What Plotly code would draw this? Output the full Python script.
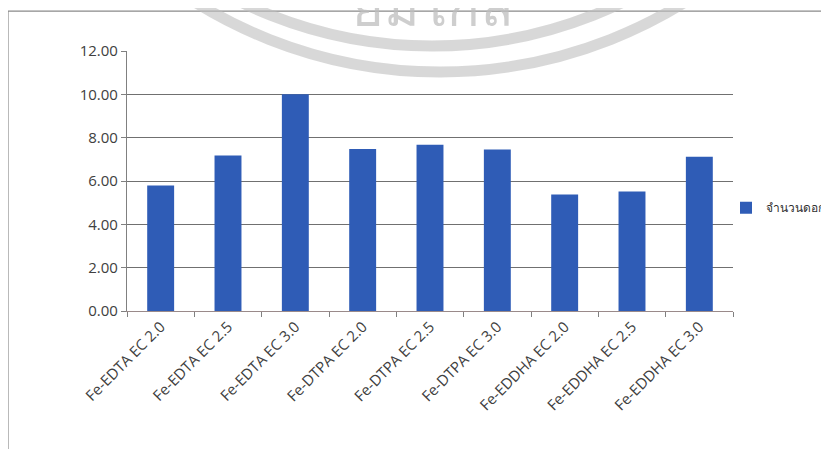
import plotly.graph_objects as go

categories = [
    "Fe-EDTA EC 2.0", "Fe-EDTA EC 2.5", "Fe-EDTA EC 3.0",
    "Fe-DTPA EC 2.0", "Fe-DTPA EC 2.5", "Fe-DTPA EC 3.0",
    "Fe-EDDHA EC 2.0", "Fe-EDDHA EC 2.5", "Fe-EDDHA EC 3.0",
]
flower_count = [5.79, 7.18, 10.00, 7.48, 7.67, 7.45, 5.38, 5.51, 7.12]
series_name = "จำนวนดอก"
y_ticks = [0, 2, 4, 6, 8, 10, 12]
y_tick_labels = ["0.00", "2.00", "4.00", "6.00", "8.00", "10.00", "12.00"]

# window is 829x449; the page body adds an 8px offset to the figure
W, H = 829, 449
OFF = 8
L, R, T, B = 127, 733, 51, 311.5   # plot area, screen pixels
pw, ph = R - L, B - T


def px_x(x):
    return (x - L) / pw


def px_y(y):
    return (B - y) / ph


fig = go.Figure()
fig.add_trace(go.Bar(
    x=categories, y=flower_count, name=series_name,
    marker=dict(color="#2F5CB6", line=dict(width=0)),
    showlegend=True,
))

shapes = [
    # outer chart border (extends past the window on right/bottom)
    dict(type="rect", xref="paper", yref="paper",
         x0=px_x(8), x1=px_x(W + 20), y0=px_y(H + 20), y1=px_y(11),
         line=dict(color="#8a8a8a", width=1.2), layer="below"),
    # faint watermark arcs
    dict(type="circle", xref="paper", yref="paper",
         x0=px_x(440 - 463), x1=px_x(440 + 463),
         y0=px_y(-391 + 463), y1=px_y(-391 - 463),
         line=dict(color="rgba(190,190,190,0.6)", width=11), layer="above"),
    dict(type="circle", xref="paper", yref="paper",
         x0=px_x(432 - 437), x1=px_x(432 + 437),
         y0=px_y(-391 + 437), y1=px_y(-391 - 437),
         line=dict(color="rgba(190,190,190,0.6)", width=11), layer="above"),
]

fig.update_layout(
    width=W - OFF, height=H - OFF,
    margin=dict(l=L - OFF, r=(W - OFF) - (R - OFF), t=T - OFF,
                b=(H - OFF) - (B - OFF), autoexpand=False),
    paper_bgcolor="white", plot_bgcolor="white",
    font=dict(family="Open Sans, Noto Sans, sans-serif", color="#404040", size=15),
    bargap=0.6,
    shapes=shapes,
    legend=dict(x=px_x(726), y=px_y(208), xanchor="left", yanchor="middle",
                font=dict(size=12, color="#303030"), itemwidth=30),
    annotations=[dict(
        text="ยมไกล้", xref="paper", yref="paper",
        x=px_x(432), y=px_y(44), xanchor="center", yanchor="bottom",
        showarrow=False, font=dict(size=54, color="rgba(190,190,190,0.75)"),
    )],
    xaxis=dict(
        type="category", tickangle=-45, tickson="boundaries",
        ticks="outside", ticklen=5, tickcolor="#808080",
        showline=True, linecolor="#9a8a8a", linewidth=1.2,
        showgrid=False, automargin=False,
        tickfont=dict(size=15, color="#404040"),
    ),
    yaxis=dict(
        range=[0, 12], tickvals=y_ticks, ticktext=y_tick_labels,
        ticks="outside", ticklen=5, tickcolor="#808080",
        showline=True, linecolor="#808080", linewidth=1.2,
        showgrid=True, gridcolor="#707070", gridwidth=1.2,
        zeroline=False, automargin=False,
        tickfont=dict(size=15, color="#404040"),
    ),
)

fig.write_html("out.html")
